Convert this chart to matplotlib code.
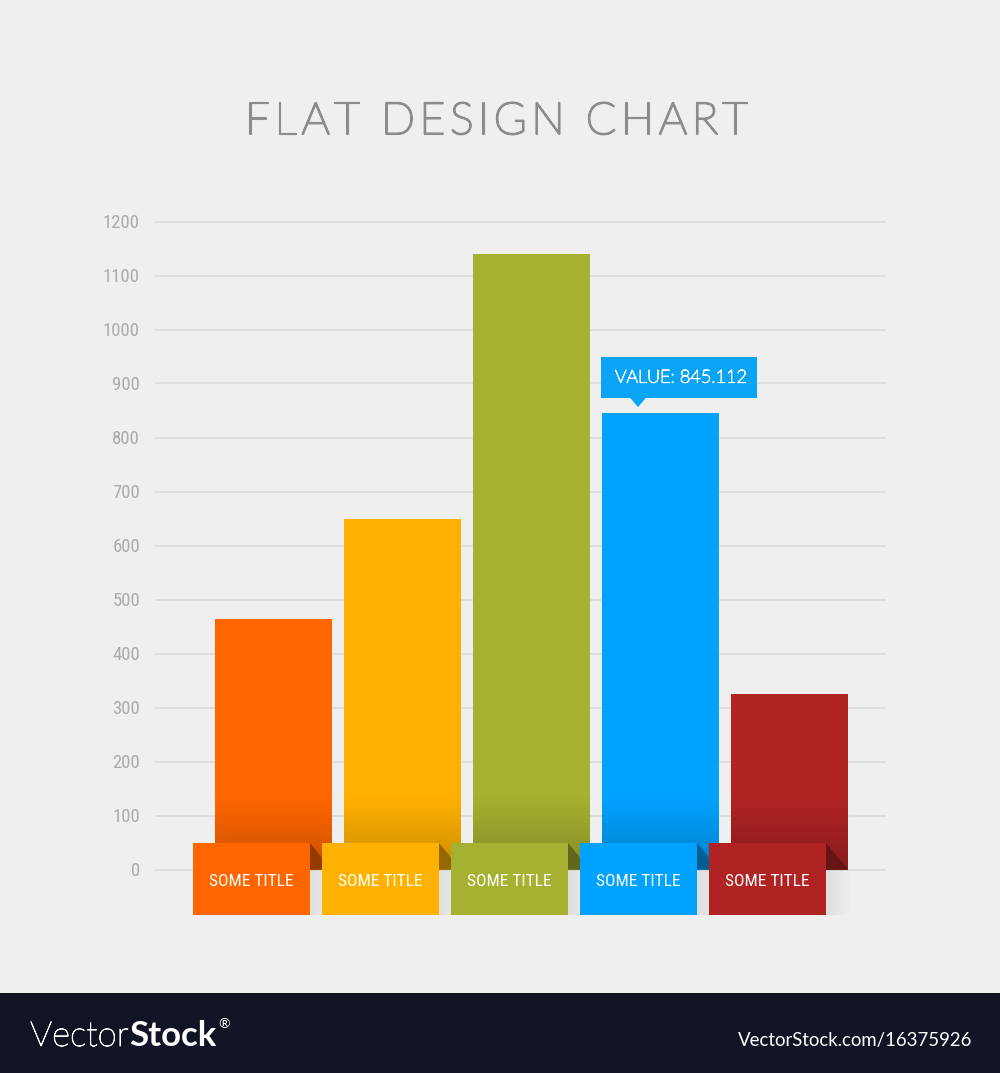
import matplotlib
matplotlib.use("Agg")
import matplotlib.pyplot as plt
import matplotlib.patheffects as pe
import numpy as np
from matplotlib import font_manager
from matplotlib.patches import Rectangle, Polygon
from matplotlib.colors import to_rgb

### データ
categories = ["SOME TITLE", "SOME TITLE", "SOME TITLE", "SOME TITLE", "SOME TITLE"]
values = [463, 650, 1139, 845.112, 325]
colors = ["#ff6600", "#ffb100", "#a5b130", "#00a2ff", "#af2323"]
yticks = list(range(0, 1300, 100))
highlight = 3
title = "FLAT DESIGN CHART"

### フォント選び
names = {f.name for f in font_manager.fontManager.ttflist}
def pick(*cands):
    for c in cands:
        if c in names:
            return c
    return "DejaVu Sans"

light = pick("Lato", "Open Sans", "Roboto")
narrow = pick("Liberation Sans Narrow", "Roboto Condensed", "Open Sans Condensed", "Lato")

def thick(w, col):
    ### 細い字に輪郭を足して太さを調整
    return [pe.withStroke(linewidth=w, foreground=col)]

### ピクセル基準の寸法
W, H = 1000, 1073
bg = "#efefef"
xpx = 129.0     # 1 本あたりの横ピクセル
ypx = 0.54      # 値 1 あたりの縦ピクセル
zero_px = 869.5 # 0 の位置
c0_px = 273.5   # 最初の棒の中心
ax_l, ax_r, ax_t, ax_b = 155, 886, 190, 945

fig = plt.figure(figsize=(W / 100, H / 100), dpi=100, facecolor=bg)
ax = fig.add_axes([ax_l / W, 1 - ax_b / H, (ax_r - ax_l) / W, (ax_b - ax_t) / H])
ax.set_facecolor(bg)
xlim = ((ax_l - c0_px) / xpx, (ax_r - c0_px) / xpx)
ylim = (-(ax_b - zero_px) / ypx, (zero_px - ax_t) / ypx)

def dx(p):
    return p / xpx

def dy(p):
    return p / ypx

def darker(c, f):
    r, g, b = to_rgb(c)
    return (r * f, g * f, b * f)

### 目盛線
ax.hlines(yticks, xlim[0], xlim[1], color="#d9d9d9", lw=1.1, zorder=1)

### 棒
x = np.arange(len(values))
bw = 117 / xpx
ax.bar(x, values, width=bw, color=colors, linewidth=0, zorder=2)

# 棒の下の方を暗くするグラデーション
grad = np.zeros((64, 1, 4))
grad[:, 0, 3] = 0.22 * np.linspace(0, 1, 64) ** 1.1
shadow = np.zeros((1, 64, 4))
shadow[0, :, 3] = np.linspace(0.07, 0, 64)

lab_top = dy(zero_px - 843)
lab_bot = -dy(915 - zero_px)
for i, (v, c, name) in enumerate(zip(values, colors, categories)):
    ax.imshow(grad, extent=[i - bw / 2, i + bw / 2, 0, dy(74)], aspect="auto",
              interpolation="bilinear", zorder=3)
    left = i - bw / 2 - dx(22)
    right = left + bw
    # 折り返し部分
    ax.add_patch(Polygon([(right, lab_top), (i + bw / 2, 0), (right, 0)],
                         closed=True, color=darker(c, 0.58), lw=0, zorder=4))
    # ラベルの影
    ax.imshow(shadow, extent=[right, right + dx(26), lab_bot, 0], aspect="auto",
              interpolation="bilinear", zorder=1.5)
    # ラベル
    ax.add_patch(Rectangle((left, lab_bot), bw, lab_top - lab_bot, color=c, lw=0, zorder=5))
    ax.text((left + right) / 2, (lab_top + lab_bot) / 2 - dy(2), name, color="white",
            fontsize=12.5, family=narrow, ha="center", va="center", zorder=6)

### 吹き出し
hv = values[highlight]
hl = highlight - bw / 2
tip_c = "#0aa4f6"
ax.add_patch(Rectangle((hl - dx(1), hv + dy(15)), dx(156), dy(41), color=tip_c, lw=0, zorder=6))
ax.add_patch(Polygon([(hl + dx(28), hv + dy(15.5)), (hl + dx(44), hv + dy(15.5)),
                      (hl + dx(36), hv + dy(6))], closed=True, color=tip_c, lw=0, zorder=6))
ax.text(hl + dx(13), hv + dy(15 + 20.5), f"VALUE: {hv:.3f}", color="white",
        fontsize=13, family=light, fontweight="light", ha="left", va="center", zorder=7,
        path_effects=thick(0.7, "white"))

### 軸の設定
ax.set_xlim(*xlim)
ax.set_ylim(*ylim)
ax.set_yticks(yticks)
ax.set_yticklabels([str(t) for t in yticks], color="#ababab", fontsize=13.5, family=narrow)
ax.set_xticks([])
ax.tick_params(axis="y", length=0, pad=10.8)
for s in ax.spines.values():
    s.set_visible(False)

### タイトル (字間を広げて一文字ずつ置く)
renderer = fig.canvas.get_renderer()
t_left, t_right, t_base = 245, 748, 134
chars = []
widths = []
for ch in title:
    if ch == " ":
        chars.append(None)
        widths.append(12)
        continue
    t = fig.text(0, 0, ch, fontsize=32, family=light, fontweight="light",
                 color="#8c8c8c", va="baseline", ha="left",
                 path_effects=thick(1.5, "#8c8c8c"))
    chars.append(t)
    widths.append(t.get_window_extent(renderer).width)
track = (t_right - t_left - sum(widths)) / (len(title) - 1)
pos = t_left
for t, w in zip(chars, widths):
    if t is not None:
        t.set_position((pos / W, 1 - t_base / H))
    pos += w + track

### 下の帯
fig.patches.append(Rectangle((0, 0), 1, 80 / H, transform=fig.transFigure,
                             color="#111425", lw=0, zorder=0))
fb = 1 - 1046 / H
t1 = fig.text(30 / W, fb, "Vector", color="white", fontsize=25, family=light,
              fontweight="light", va="baseline", ha="left",
              path_effects=thick(0.6, "white"))
w1 = t1.get_window_extent(renderer).width
t2 = fig.text((30 + w1) / W, fb, "Stock", color="white", fontsize=25, family=light,
              fontweight="bold", va="baseline", ha="left")
w2 = t2.get_window_extent(renderer).width
fig.text((32 + w1 + w2) / W, 1 - 1028 / H, "®", color="white", fontsize=10, family=light,
         va="baseline", ha="left")
fig.text(972 / W, fb, "VectorStock.com/16375926", color="white", fontsize=13.4,
         family=light, va="baseline", ha="right")

fig.savefig("out.png", dpi=100, facecolor=bg)
